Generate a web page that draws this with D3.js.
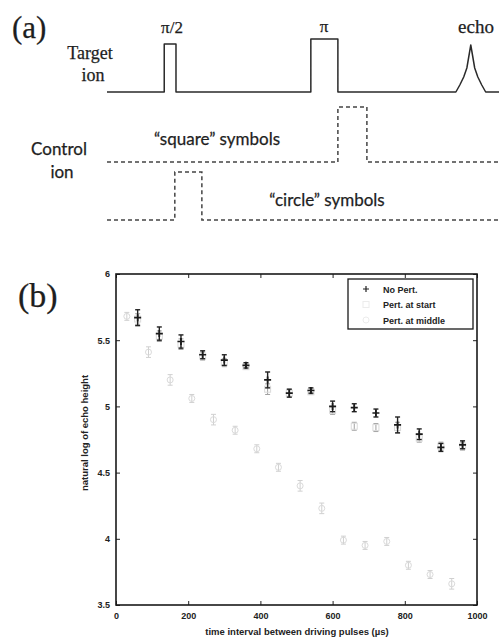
<!DOCTYPE html>
<html>
<head>
<meta charset="utf-8">
<script src="https://cdn.jsdelivr.net/npm/d3@7"></script>
<style>
  html, body { margin: 0; padding: 0; background: #fff; }
  svg { display: block; }
</style>
</head>
<body>
<div id="fig"></div>
<script>
// ---- measured data: natural log of echo height vs. pulse spacing ----
const timesNoPert   = [60, 120, 180, 240, 300, 360, 420, 480, 540, 600, 660, 720, 780, 840, 900, 960];
const logNoPert     = [5.67, 5.55, 5.49, 5.39, 5.35, 5.31, 5.20, 5.10, 5.12, 5.00, 4.99, 4.95, 4.86, 4.79, 4.69, 4.71];
const errNoPert     = [0.06, 0.05, 0.05, 0.03, 0.04, 0.02, 0.06, 0.03, 0.02, 0.04, 0.03, 0.03, 0.06, 0.04, 0.03, 0.03];

const timesStart    = [60, 120, 180, 240, 300, 360, 420, 480, 540, 600, 660, 720, 780, 840, 900, 960];
const logStart      = [5.66, 5.53, 5.47, 5.38, 5.33, 5.30, 5.13, 5.10, 5.11, 4.97, 4.85, 4.84, 4.84, 4.76, 4.70, 4.70];
const errStart      = [0.04, 0.04, 0.04, 0.03, 0.03, 0.02, 0.04, 0.03, 0.02, 0.03, 0.03, 0.03, 0.04, 0.03, 0.03, 0.03];

const timesMiddle   = [30, 90, 150, 210, 270, 330, 390, 450, 510, 570, 630, 690, 750, 810, 870, 930];
const logMiddle     = [5.68, 5.41, 5.20, 5.06, 4.90, 4.82, 4.68, 4.54, 4.40, 4.23, 3.99, 3.95, 3.98, 3.80, 3.73, 3.66];
const errMiddle     = [0.03, 0.04, 0.04, 0.03, 0.04, 0.03, 0.03, 0.03, 0.04, 0.04, 0.03, 0.03, 0.03, 0.03, 0.03, 0.04];

const xTicks = [0, 200, 400, 600, 800, 1000];
const yTicks = [3.5, 4, 4.5, 5, 5.5, 6];
const legendLabels = ["No Pert.", "Pert. at start", "Pert. at middle"];

const W = 499, H = 639;
const svg = d3.select("#fig").append("svg")
  .attr("width", W).attr("height", H)
  .attr("viewBox", `0 0 ${W} ${H}`);
svg.append("rect").attr("width", W).attr("height", H).attr("fill", "#fff");

// ======================= (a) pulse-sequence schematic =======================
const serif = "'Liberation Serif', 'Times New Roman', serif";
const humanist = "Lato, 'Open Sans', sans-serif";
const ink = "#2a2a2a";

const diag = svg.append("g");
// schematic time axis (arbitrary units) mapped across the page
const tx = d3.scaleLinear().domain([0, 100]).range([107, 499]);
const line = d3.line().x(d => tx(d[0])).y(d => d[1]);

// target ion: pi/2 pulse, pi pulse, echo spike, then baseline to the edge
const targetBase = 92;
const targetPath = [
  [0, targetBase], [14.6, targetBase], [14.6, 44], [17.6, 44], [17.6, targetBase],
  [52.0, targetBase], [52.0, 39], [58.9, 39], [58.9, targetBase], [89.0, targetBase],
  [90.0, 85], [91.0, 77], [91.8, 68], [92.8, 45],
  [93.8, 68], [94.6, 77], [95.6, 85], [96.6, targetBase], [100, targetBase]
];
diag.append("path").attr("d", line(targetPath))
  .attr("fill", "none").attr("stroke", ink).attr("stroke-width", 1.5)
  .attr("stroke-linejoin", "round");

// control ion: "square" case (pulse after pi) and "circle" case (pulse after pi/2)
const squareBase = 162, circleBase = 220;
const squarePath = [
  [0, squareBase], [58.9, squareBase], [58.9, 107], [66.3, 107], [66.3, squareBase], [100, squareBase]
];
const circlePath = [
  [0, circleBase], [17.3, circleBase], [17.3, 172], [24.2, 172], [24.2, circleBase], [100, circleBase]
];
[squarePath, circlePath].forEach(p => {
  diag.append("path").attr("d", line(p))
    .attr("fill", "none").attr("stroke", "#444").attr("stroke-width", 1.5)
    .attr("stroke-dasharray", "4,3");
});

function label(g, txt, xx, yy, family, size, anchor) {
  return g.append("text").attr("x", xx).attr("y", yy).attr("text-anchor", anchor || "middle")
    .attr("font-family", family).attr("font-size", size).attr("fill", "#1e1e1e")
    .attr("stroke", "#1e1e1e").attr("stroke-width", 0.25).text(txt);
}
label(diag, "(a)", 12, 38, serif, 31, "start");
label(diag, "Target", 90, 59, serif, 18);
label(diag, "ion", 93, 81, serif, 18);
label(diag, "π/2", 172, 33, serif, 17);
label(diag, "π", 324, 32, serif, 17);
label(diag, "echo", 476, 33, serif, 19);
label(diag, "Control", 59, 155, humanist, 17);
label(diag, "ion", 62, 178, humanist, 17);
label(diag, "“square” symbols", 217, 145, humanist, 17);
label(diag, "“circle” symbols", 327, 206, humanist, 17);

// ======================= (b) echo decay plot =======================
label(svg, "(b)", 18, 307, serif, 34, "start");

const m = { left: 116, right: 477, top: 274, bottom: 605 };
const x = d3.scaleLinear().domain([0, 1000]).range([m.left, m.right]);
const y = d3.scaleLinear().domain([3.5, 6]).range([m.bottom, m.top]);
const sans = "'Liberation Sans', Arial, sans-serif";

const plot = svg.append("g");

function styleAxis(g) {
  g.select(".domain").remove();
  g.selectAll(".tick line").attr("stroke", "#222").attr("stroke-width", 1);
  g.selectAll(".tick text").attr("font-family", sans).attr("font-size", 9)
    .attr("font-weight", "bold").attr("fill", "#222");
}
plot.append("g").attr("transform", `translate(0,${m.bottom})`)
  .call(d3.axisBottom(x).tickValues(xTicks).tickFormat(d3.format("d")).tickSize(-4).tickPadding(8))
  .call(styleAxis);
plot.append("g").attr("transform", `translate(0,${m.top})`)
  .call(d3.axisTop(x).tickValues(xTicks).tickFormat("").tickSize(-4))
  .call(styleAxis);
plot.append("g").attr("transform", `translate(${m.left},0)`)
  .call(d3.axisLeft(y).tickValues(yTicks).tickFormat(d3.format("")).tickSize(-4).tickPadding(6))
  .call(styleAxis);
plot.append("g").attr("transform", `translate(${m.right},0)`)
  .call(d3.axisRight(y).tickValues(yTicks).tickFormat("").tickSize(-4))
  .call(styleAxis);

plot.append("rect")
  .attr("x", m.left).attr("y", m.top)
  .attr("width", m.right - m.left).attr("height", m.bottom - m.top)
  .attr("fill", "none").attr("stroke", "#1a1a1a").attr("stroke-width", 1.6);

// error bars with caps
function errorBars(ts, vs, es, color, width, capHalf) {
  const g = plot.append("g").attr("stroke", color).attr("stroke-width", width).attr("fill", "none");
  ts.forEach((t, i) => {
    const cx = x(t), y0 = y(vs[i] - es[i]), y1 = y(vs[i] + es[i]);
    g.append("line").attr("x1", cx).attr("x2", cx).attr("y1", y0).attr("y2", y1);
    g.append("line").attr("x1", cx - capHalf).attr("x2", cx + capHalf).attr("y1", y0).attr("y2", y0);
    g.append("line").attr("x1", cx - capHalf).attr("x2", cx + capHalf).attr("y1", y1).attr("y2", y1);
  });
}

// perturbation at middle: faint circles
errorBars(timesMiddle, logMiddle, errMiddle, "#d0d0d0", 1, 2.5);
plot.append("g").selectAll("circle").data(timesMiddle).join("circle")
  .attr("cx", d => x(d)).attr("cy", (d, i) => y(logMiddle[i])).attr("r", 3)
  .attr("fill", "none").attr("stroke", "#dadada").attr("stroke-width", 1);

// perturbation at start: faint squares
errorBars(timesStart, logStart, errStart, "#a0a0a0", 1, 2.5);
plot.append("g").selectAll("rect").data(timesStart).join("rect")
  .attr("x", d => x(d) - 3).attr("y", (d, i) => y(logStart[i]) - 3)
  .attr("width", 6).attr("height", 6)
  .attr("fill", "none").attr("stroke", "#dadada").attr("stroke-width", 1);

// no perturbation: dark plus markers
errorBars(timesNoPert, logNoPert, errNoPert, "#222", 1.4, 2.5);
plot.append("g").selectAll("path").data(timesNoPert).join("path")
  .attr("transform", (d, i) => `translate(${x(d)},${y(logNoPert[i])})`)
  .attr("d", "M-3.5,0H3.5M0,-3.5V3.5")
  .attr("stroke", "#1a1a1a").attr("stroke-width", 1.7);

// legend
const lg = plot.append("g");
lg.append("rect").attr("x", 348).attr("y", 279).attr("width", 125).attr("height", 50)
  .attr("fill", "#fff").attr("stroke", "#1a1a1a").attr("stroke-width", 1.3);
legendLabels.forEach((lab, i) => {
  const ly = 289 + i * 15.5;
  lg.append("text").attr("x", 383).attr("y", ly + 3.5)
    .attr("font-family", sans).attr("font-size", 9).attr("font-weight", "bold")
    .attr("fill", "#222").text(lab);
});
lg.append("path").attr("transform", "translate(366,289)").attr("d", "M-3,0H3M0,-3V3")
  .attr("stroke", "#222").attr("stroke-width", 1.2);
lg.append("rect").attr("x", 363).attr("y", 301.5).attr("width", 6).attr("height", 6)
  .attr("fill", "none").attr("stroke", "#ececec");
lg.append("circle").attr("cx", 366).attr("cy", 320).attr("r", 3)
  .attr("fill", "none").attr("stroke", "#ececec");

// axis titles
plot.append("text").attr("x", 297).attr("y", 635).attr("text-anchor", "middle")
  .attr("font-family", sans).attr("font-size", 9.5).attr("font-weight", "bold").attr("fill", "#222")
  .text("time interval between driving pulses (µs)");
plot.append("text").attr("transform", "translate(88,433) rotate(-90)").attr("text-anchor", "middle")
  .attr("font-family", sans).attr("font-size", 9.5).attr("font-weight", "bold").attr("fill", "#222")
  .text("natural log of echo height");
</script>
</body>
</html>
